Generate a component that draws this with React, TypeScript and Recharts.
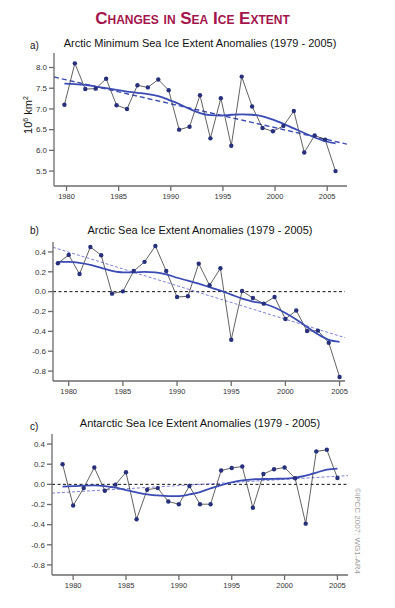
import React from 'react';
import { LineChart, Line, XAxis, YAxis, ReferenceLine } from 'recharts';

// shared
const years = [
    1979, 1980, 1981, 1982, 1983, 1984, 1985, 1986, 1987, 1988, 1989, 1990, 1991, 1992,
    1993, 1994, 1995, 1996, 1997, 1998, 1999, 2000, 2001, 2002, 2003, 2004, 2005,
];
const yearTicks = [1980, 1985, 1990, 1995, 2000, 2005];
const anomalyTicks = [-0.8, -0.6, -0.4, -0.2, 0, 0.2, 0.4];
const extentTicks = [5.5, 6.0, 6.5, 7.0, 7.5, 8.0];

// a) Arctic September minimum, 10^6 km2 (plotted at the September position of each year)
const septemberOffset = 0.8;
const arcticMinValues = [
    7.10, 8.10, 7.48, 7.49, 7.73, 7.09, 7.00, 7.57, 7.52, 7.71, 7.45, 6.50, 6.57, 7.33,
    6.29, 7.26, 6.11, 7.78, 7.06, 6.54, 6.46, 6.59, 6.95, 5.95, 6.36, 6.26, 5.50,
];
const arcticMinSmooth = [
    7.61, 7.60, 7.58, 7.54, 7.50, 7.46, 7.42, 7.39, 7.36, 7.31, 7.22, 7.12, 7.00, 6.90,
    6.85, 6.84, 6.86, 6.87, 6.86, 6.82, 6.74, 6.64, 6.53, 6.42, 6.31, 6.22, 6.17,
];
const arcticMinTrend = [
    { x: 1978.8, y: 7.77 },
    { x: 2006.9, y: 6.15 },
];

// b) Arctic annual anomalies
const arcticValues = [
    0.286, 0.37, 0.178, 0.45, 0.366, -0.02, 0.003, 0.208, 0.30, 0.46, 0.208, -0.054, -0.047, 0.282,
    0.064, 0.235, -0.484, 0.007, -0.064, -0.121, -0.054, -0.276, -0.19, -0.397, -0.393, -0.514, -0.86,
];
const arcticSmooth = [
    0.30, 0.30, 0.29, 0.27, 0.24, 0.21, 0.195, 0.195, 0.20, 0.195, 0.175, 0.14, 0.11, 0.08,
    0.045, 0.01, -0.03, -0.07, -0.10, -0.12, -0.16, -0.215, -0.28, -0.355, -0.43, -0.485, -0.505,
];
const arcticTrend = [
    { x: 1978.55, y: 0.447 },
    { x: 2005.5, y: -0.464 },
];

// c) Antarctic annual anomalies
const antarcticValues = [
    0.20, -0.21, -0.037, 0.167, -0.063, -0.003, 0.12, -0.347, -0.053, -0.037, -0.17, -0.197, -0.017, -0.197,
    -0.197, 0.137, 0.163, 0.177, -0.233, 0.103, 0.15, 0.167, 0.06, -0.39, 0.327, 0.343, 0.063,
];
const antarcticSmooth = [
    -0.023, -0.018, -0.013, -0.01, -0.017, -0.033, -0.057, -0.08, -0.10, -0.11, -0.117, -0.117, -0.10, -0.077,
    -0.04, -0.007, 0.02, 0.04, 0.05, 0.053, 0.055, 0.057, 0.067, 0.087, 0.117, 0.147, 0.157,
];
const antarcticTrend = [
    { x: 1978.0, y: -0.087 },
    { x: 2006.0, y: 0.087 },
];

const FONT = '"Liberation Sans", Arial, Helvetica, sans-serif';
const FRAME = '#6b6b6b';
const DOT = '#27307a';
const SMOOTH = '#3b4bb4';

interface PanelProps {
    values: number[];
    smooth: number[];
    trend: { x: number; y: number }[];
    xOffset: number;
    xDomain: [number, number];
    yDomain: [number, number];
    yTicks: number[];
    plotLeft: number;
    plotRight: number;
    plotTop: number;
    plotBottom: number;
    zeroLine: boolean;
    trendColor: string;
    trendDash: string;
    trendWidth: number;
}

const Panel: React.FC<PanelProps> = (p) => {
    const pad = 10;
    const axisH = 24;
    const obs = years.map((yr, i) => ({ x: yr + p.xOffset, y: p.values[i] }));
    const smo = years.map((yr, i) => ({ x: yr + p.xOffset, y: p.smooth[i] }));
    const tickStyle = { fill: '#333', fontSize: 7.5, fontFamily: FONT };

    return (
        <div style={{ position: 'absolute', left: 0, top: p.plotTop - pad }}>
            <LineChart
                width={395}
                height={pad + (p.plotBottom - p.plotTop) + axisH}
                margin={{ top: pad, right: 395 - p.plotRight, bottom: 0, left: 0 }}
            >
                <XAxis
                    dataKey="x"
                    type="number"
                    domain={p.xDomain}
                    allowDataOverflow
                    ticks={yearTicks}
                    height={axisH}
                    tick={tickStyle}
                    tickSize={5}
                    tickMargin={3}
                    stroke={FRAME}
                    strokeWidth={1.3}
                />
                <XAxis
                    xAxisId="top"
                    orientation="top"
                    dataKey="x"
                    type="number"
                    domain={p.xDomain}
                    allowDataOverflow
                    height={0}
                    tick={false}
                    tickLine={false}
                    stroke={FRAME}
                    strokeWidth={1.3}
                />
                <YAxis
                    type="number"
                    domain={p.yDomain}
                    allowDataOverflow
                    ticks={p.yTicks}
                    width={p.plotLeft}
                    tick={{ ...tickStyle, fontSize: 8 }}
                    tickFormatter={(v: number) => v.toFixed(1)}
                    tickSize={5}
                    stroke={FRAME}
                    strokeWidth={1.3}
                />
                <YAxis
                    yAxisId="right"
                    orientation="right"
                    type="number"
                    domain={p.yDomain}
                    allowDataOverflow
                    width={0}
                    tick={false}
                    tickLine={false}
                    stroke={FRAME}
                    strokeWidth={1.3}
                />
                {p.zeroLine && (
                    <ReferenceLine y={0} stroke="#111" strokeWidth={1} strokeDasharray="3 2.5" />
                )}
                <Line
                    data={p.trend}
                    dataKey="y"
                    type="linear"
                    stroke={p.trendColor}
                    strokeWidth={p.trendWidth}
                    strokeDasharray={p.trendDash}
                    dot={false}
                    isAnimationActive={false}
                />
                <Line
                    data={obs}
                    dataKey="y"
                    type="linear"
                    stroke="#3a3a3a"
                    strokeWidth={0.8}
                    dot={{ r: 2.2, fill: DOT, stroke: DOT, strokeWidth: 0 }}
                    isAnimationActive={false}
                />
                <Line
                    data={smo}
                    dataKey="y"
                    type="monotone"
                    stroke={SMOOTH}
                    strokeWidth={1.8}
                    dot={false}
                    isAnimationActive={false}
                />
            </LineChart>
        </div>
    );
};

const subtitle: React.CSSProperties = {
    position: 'absolute',
    left: 0,
    width: 400,
    textAlign: 'center',
    fontFamily: FONT,
    fontSize: 11,
    color: '#111',
    lineHeight: '12px',
};

const tag: React.CSSProperties = {
    position: 'absolute',
    left: 30,
    fontFamily: FONT,
    fontSize: 10,
    color: '#111',
    lineHeight: '10px',
};

export default function App() {
    return (
        <div style={{ position: 'absolute', left: 0, top: 0, width: 395, height: 608, background: '#fff', overflow: 'hidden' }}>
            <div
                style={{
                    position: 'absolute',
                    left: 0,
                    top: 9,
                    width: 385,
                    textAlign: 'center',
                    fontFamily: FONT,
                    fontWeight: 'bold',
                    fontSize: 17,
                    fontVariant: 'small-caps',
                    color: '#a3154c',
                    lineHeight: '20px',
                }}
            >
                Changes in Sea Ice Extent
            </div>

            <div style={{ ...tag, top: 41 }}>a)</div>
            <div style={{ ...subtitle, top: 37 }}>Arctic Minimum Sea Ice Extent Anomalies (1979 - 2005)</div>
            <div
                style={{
                    position: 'absolute',
                    left: 28,
                    top: 115,
                    transform: 'translate(-50%, -50%) rotate(-90deg)',
                    fontFamily: FONT,
                    fontSize: 11,
                    color: '#111',
                    whiteSpace: 'nowrap',
                }}
            >
                10<sup style={{ fontSize: 7 }}>6</sup> km<sup style={{ fontSize: 7 }}>2</sup>
            </div>
            <Panel
                values={arcticMinValues}
                smooth={arcticMinSmooth}
                trend={arcticMinTrend}
                xOffset={septemberOffset}
                xDomain={[1978.8, 2006.9]}
                yDomain={[5.14, 8.35]}
                yTicks={extentTicks}
                plotLeft={54}
                plotRight={347}
                plotTop={53}
                plotBottom={186}
                zeroLine={false}
                trendColor={SMOOTH}
                trendDash="5 3"
                trendWidth={1.4}
            />

            <div style={{ ...tag, top: 226 }}>b)</div>
            <div style={{ ...subtitle, top: 224 }}>Arctic Sea Ice Extent Anomalies (1979 - 2005)</div>
            <Panel
                values={arcticValues}
                smooth={arcticSmooth}
                trend={arcticTrend}
                xOffset={0}
                xDomain={[1978.55, 2005.5]}
                yDomain={[-0.9, 0.5]}
                yTicks={anomalyTicks}
                plotLeft={53}
                plotRight={345}
                plotTop={242}
                plotBottom={381}
                zeroLine={true}
                trendColor="#7d80d8"
                trendDash="3 2"
                trendWidth={1}
            />

            <div style={{ ...tag, top: 422 }}>c)</div>
            <div style={{ ...subtitle, top: 417 }}>Antarctic Sea Ice Extent Anomalies (1979 - 2005)</div>
            <Panel
                values={antarcticValues}
                smooth={antarcticSmooth}
                trend={antarcticTrend}
                xOffset={0}
                xDomain={[1978.0, 2006.0]}
                yDomain={[-0.9, 0.5]}
                yTicks={anomalyTicks}
                plotLeft={52}
                plotRight={348}
                plotTop={434}
                plotBottom={575}
                zeroLine={true}
                trendColor="#7d80d8"
                trendDash="3 2"
                trendWidth={1}
            />

            <div
                style={{
                    position: 'absolute',
                    left: 357,
                    top: 531,
                    transform: 'translate(-50%, -50%) rotate(90deg)',
                    fontFamily: FONT,
                    fontSize: 8,
                    color: '#9a9a9a',
                    whiteSpace: 'nowrap',
                }}
            >
                ©IPCC 2007: WG1-AR4
            </div>
        </div>
    );
}
